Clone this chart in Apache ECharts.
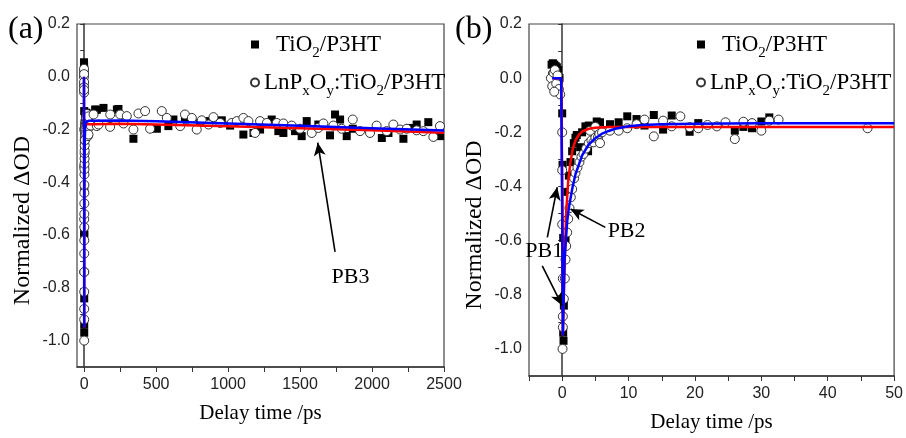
<!DOCTYPE html>
<html>
<head>
<meta charset="utf-8">
<script src="https://cdn.jsdelivr.net/npm/echarts@6/dist/echarts.min.js"></script>
<style>html,body{margin:0;padding:0;background:#fff}#c{width:906px;height:438px}</style>
</head>
<body>
<div id="c"></div>
<script>
// ---- data (x: delay time in ps, y: normalized ΔOD) ----
const seriesNames = ['TiO2/P3HT', 'LnPxOy:TiO2/P3HT'];

// short-time data (visible in panel b, and as the spike at 0 in panel a)
const tio2Short = [
  [-1.6,0.05],[-1.4,0.055],[-1.2,0.05],[-1.0,0.045],[-0.8,0.04],[-0.6,0.03],[-1.5,0.01],[-0.4,0.0],
  [0.0,-0.13],[0.05,-0.32],[0.15,-0.59],[0.25,-0.84],[0.15,-0.94],[0.2,-0.97],
  [0.5,-0.6],[0.75,-0.42],[1.0,-0.36],[1.25,-0.31],[1.5,-0.27],[1.75,-0.24],[2.0,-0.22],[2.2,-0.21],
  [2.7,-0.255],[3.0,-0.2],[3.5,-0.178],[3.9,-0.27],[4.0,-0.175],
  [5.2,-0.16],[5.7,-0.163],[7.2,-0.17],[8.5,-0.163],[9.8,-0.141],[11.2,-0.151],[12.4,-0.175],
  [13.8,-0.136],[15.2,-0.19],[16.5,-0.138],[19.2,-0.198],[20.5,-0.166],[26,-0.194],[27.3,-0.18],
  [28.6,-0.185],[30,-0.16],[31.2,-0.145]
];
const lnpShort = [
  [-1.7,0.0],[-1.5,-0.03],[-1.3,0.02],[-1.1,0.03],[-0.9,-0.02],[-0.7,0.01],[-0.5,-0.04],[-0.3,-0.06],[-1.2,-0.05],
  [0.0,-0.2],[0.0,-0.34],[0.0,-0.54],[0.1,-0.74],[0.1,-0.88],[0.1,-0.92],[0.05,-1.0],
  [0.25,-0.815],[0.4,-0.74],[0.5,-0.67],[0.6,-0.62],[0.75,-0.57],[0.9,-0.52],[1.1,-0.48],[1.3,-0.44],
  [1.5,-0.41],[1.8,-0.37],[2.0,-0.35],[2.3,-0.33],[2.6,-0.31],[2.9,-0.29],[3.2,-0.28],[3.6,-0.26],
  [4.0,-0.24],[4.2,-0.194],[4.4,-0.23],[4.7,-0.237],[5.0,-0.18],[5.0,-0.22],[5.4,-0.218],[5.6,-0.206],
  [5.7,-0.24],[6.0,-0.2],
  [7.2,-0.194],[8.5,-0.194],[9.8,-0.185],[11.2,-0.17],[12.4,-0.153],[13.8,-0.215],[15.2,-0.157],
  [16.5,-0.178],[17.8,-0.141],[19.2,-0.181],[20.5,-0.185],[21.9,-0.173],[23.3,-0.178],[24.6,-0.163],
  [26,-0.225],[27.3,-0.161],[28.6,-0.166],[30,-0.194],[31.2,-0.157],[32.6,-0.153],[46,-0.185]
];
// long-time data (panel a only)
const tio2Long = [
  [76,-0.124],[88,-0.125],[134,-0.118],[227,-0.124],[238,-0.122],[342,-0.235],[505,-0.197],[585,-0.187],
  [620,-0.162],[700,-0.162],[806,-0.175],[864,-0.168],[956,-0.165],[1014,-0.185],[1106,-0.219],
  [1176,-0.213],[1222,-0.2],[1303,-0.162],[1349,-0.206],[1384,-0.213],[1465,-0.206],[1511,-0.225],
  [1546,-0.168],[1627,-0.181],[1708,-0.222],[1743,-0.143],[1778,-0.162],[1824,-0.225],[1866,-0.197],
  [2068,-0.232],[2114,-0.213],[2218,-0.235],[2264,-0.194],[2310,-0.181],[2391,-0.172],[2472,-0.225]
];
const lnpLong = [
  [30,-0.15],[30,-0.219],[65,-0.143],[88,-0.187],[100,-0.181],[180,-0.19],[181,-0.143],[250,-0.143],
  [273,-0.177],[296,-0.149],[342,-0.2],[377,-0.139],[423,-0.13],[458,-0.197],[539,-0.13],[574,-0.156],
  [667,-0.187],[700,-0.143],[748,-0.156],[782,-0.2],[817,-0.165],[864,-0.181],[898,-0.153],[945,-0.175],
  [1025,-0.175],[1060,-0.168],[1106,-0.156],[1141,-0.168],[1187,-0.213],[1222,-0.168],[1269,-0.175],
  [1338,-0.175],[1384,-0.177],[1442,-0.185],[1500,-0.197],[1581,-0.213],[1627,-0.194],[1662,-0.177],
  [1731,-0.185],[1789,-0.197],[1866,-0.162],[1917,-0.206],[1986,-0.213],[2032,-0.185],[2102,-0.206],
  [2148,-0.181],[2195,-0.2],[2241,-0.197],[2310,-0.203],[2356,-0.206],[2426,-0.228],[2472,-0.187]
];
// fitted curves
const redFitShort = [
  [-1.5,0],[-0.15,0],[0.05,-0.5],[0.1,-0.95],[0.3,-0.75],[0.6,-0.5],[0.9,-0.38],[1.25,-0.31],[1.6,-0.26],
  [2,-0.23],[2.5,-0.21],[3,-0.197],[4,-0.187],[5,-0.183],[7,-0.18],[20,-0.18],[50,-0.18]
];
const blueFitShort = [
  [-1.5,0],[-0.15,0],[0.0,-0.5],[0.1,-0.95],[0.35,-0.67],[0.75,-0.53],[1,-0.48],[1.5,-0.41],[2,-0.355],
  [2.5,-0.32],[3,-0.285],[4,-0.245],[5,-0.222],[6,-0.205],[7,-0.195],[8,-0.187],[10,-0.178],[12,-0.173],
  [15,-0.17],[20,-0.168],[30,-0.167],[50,-0.167]
];
const redFitLong = [[250,-0.178],[500,-0.181],[1000,-0.188],[1500,-0.195],[2000,-0.203],[2500,-0.212]];
const blueFitLong = [[250,-0.166],[500,-0.169],[1000,-0.177],[1500,-0.186],[2000,-0.195],[2500,-0.204]];

// tick values
const yLabelValues = [-1.0,-0.8,-0.6,-0.4,-0.2,0.0,0.2];
const yTickValues = [-1.0,-0.9,-0.8,-0.7,-0.6,-0.5,-0.4,-0.3,-0.2,-0.1,0.0,0.1,0.2];
const xaLabelValues = [0,500,1000,1500,2000,2500];
const xaTickValues = [0,250,500,750,1000,1250,1500,1750,2000,2250,2500];
const xbLabelValues = [0,10,20,30,40,50];
const xbTickValues = [-5,0,5,10,15,20,25,30,35,40,45,50];

// annotations: [label, text position, arrow start, arrow tip]
const annA = [['PB3', [1850,-0.76], [1743,-0.664], [1623,-0.25]]];
const annB = [
  ['PB1', [-2.7,-0.64], [-2.24,-0.588], [-0.75,-0.403]],
  ['', null, [-3.0,-0.693], [0.0,-0.84]],
  ['PB2', [9.7,-0.566], [6.5,-0.551], [1.25,-0.483]]
];

// ---- chart ----
const SERIF = 'Liberation Serif';
const SANS = 'Liberation Sans';
const chart = echarts.init(document.getElementById('c'), null, {renderer: 'canvas'});

function yAxisCfg(gridIndex) {
  return {
    type: 'value', gridIndex, min: -1.1, max: 0.2,
    name: 'Normalized ΔOD', nameLocation: 'middle', nameGap: 42,
    nameTextStyle: {fontFamily: SERIF, fontSize: 24, color: '#000', padding: [0, 50, 0, 0]},
    axisLine: {show: true, lineStyle: {color: '#333', width: 1.5}},
    axisTick: {show: true, inside: false, length: 4, customValues: yTickValues, lineStyle: {color: '#333', width: 1}},
    axisLabel: {customValues: yLabelValues, margin: 7, fontFamily: SANS, fontSize: 16, color: '#222',
      formatter: v => v.toFixed(1)},
    splitLine: {show: false}
  };
}
function xAxisCfg(gridIndex, min, max, labels, ticks) {
  return {
    type: 'value', gridIndex, min, max,
    name: 'Delay time /ps', nameLocation: 'middle', nameGap: 36,
    nameTextStyle: {fontFamily: SERIF, fontSize: 21, color: '#000'},
    axisLine: {show: true, onZero: false, lineStyle: {color: '#333', width: 1.5}},
    axisTick: {show: true, inside: false, length: 5, customValues: ticks, lineStyle: {color: '#333', width: 1}},
    axisLabel: {customValues: labels, margin: 10, fontFamily: SANS, fontSize: 16, color: '#222',
      formatter: v => String(v)},
    splitLine: {show: false}
  };
}
function annotations(list) {
  const lines = list.map(a => [{coord: a[2]}, {coord: a[3]}]);
  const pts = list.filter(a => a[0]).map(a => ({name: a[0], coord: a[1]}));
  return {
    markLine: {silent: true, symbol: ['none', 'arrow'], symbolSize: [9, 13], animation: false,
      lineStyle: {color: '#000', width: 1.6, type: 'solid'}, label: {show: false}, data: lines},
    markPoint: {silent: true, symbol: 'rect', symbolSize: 1, itemStyle: {color: 'rgba(0,0,0,0)'},
      label: {show: true, position: 'inside', formatter: p => p.name, fontFamily: SERIF, fontSize: 22, color: '#000'},
      data: pts}
  };
}
function panelSeries(idx, tio2, lnp, red, blue, ann) {
  return [
    {name: seriesNames[0], type: 'scatter', xAxisIndex: idx, yAxisIndex: idx, data: tio2,
      symbol: 'rect', symbolSize: 8, itemStyle: {color: '#000', opacity: 1}},
    {name: seriesNames[1], type: 'scatter', xAxisIndex: idx, yAxisIndex: idx, data: lnp,
      symbol: 'circle', symbolSize: 9, itemStyle: {color: '#fff', borderColor: '#333', borderWidth: 1, opacity: 1}},
    {name: 'fitRed' + idx, type: 'line', xAxisIndex: idx, yAxisIndex: idx, data: red, showSymbol: false,
      lineStyle: {color: '#ff0000', width: 2.5}},
    Object.assign({name: 'fitBlue' + idx, type: 'line', xAxisIndex: idx, yAxisIndex: idx, data: blue, showSymbol: false,
      lineStyle: {color: '#0000ff', width: 2.5}}, annotations(ann))
  ];
}
function legendCfg(left) {
  return {
    left, top: 28, orient: 'vertical', itemWidth: 8, itemHeight: 8, itemGap: 10,
    textStyle: {fontFamily: SERIF, fontSize: 23, color: '#000',
      rich: {s: {fontFamily: SERIF, fontSize: 15, color: '#000', padding: [18, 0, 0, 0]}}},
    formatter: n => n === seriesNames[0] ? 'TiO{s|2}/P3HT' : 'LnP{s|x}O{s|y}:TiO{s|2}/P3HT',
    data: [{name: seriesNames[0], textStyle: {padding: [0, 0, 0, 12]}}, {name: seriesNames[1]}]
  };
}

const option = {
  animation: false,
  backgroundColor: '#fff',
  grid: [
    {left: 77, top: 24, width: 367, height: 343, show: true, borderColor: '#444', borderWidth: 1.2},
    {left: 529, top: 24, width: 369, height: 353, show: true, borderColor: '#444', borderWidth: 1.2}
  ],
  xAxis: [xAxisCfg(0, -50, 2500, xaLabelValues, xaTickValues), xAxisCfg(1, -5, 50, xbLabelValues, xbTickValues)],
  yAxis: [yAxisCfg(0), yAxisCfg(1)],
  legend: [legendCfg(245), legendCfg(691)],
  graphic: [
    {type: 'text', left: 8, top: 14, style: {text: '(a)', fontFamily: SERIF, fontSize: 32, fill: '#000'}},
    {type: 'text', left: 455, top: 14, style: {text: '(b)', fontFamily: SERIF, fontSize: 32, fill: '#000'}}
  ],
  series: [
    ...panelSeries(0, tio2Short.concat(tio2Long), lnpShort.concat(lnpLong),
      redFitShort.concat(redFitLong), blueFitShort.concat(blueFitLong), annA),
    ...panelSeries(1, tio2Short, lnpShort, redFitShort, blueFitShort, annB)
  ]
};
chart.setOption(option);
</script>
</body>
</html>
